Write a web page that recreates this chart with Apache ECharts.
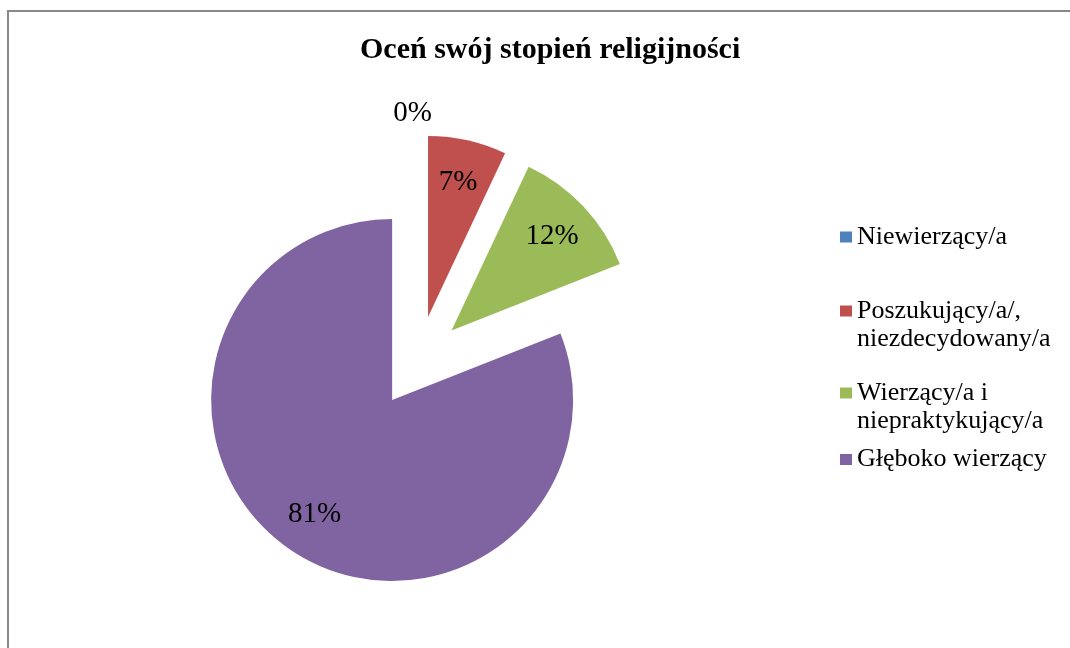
<!DOCTYPE html>
<html>
<head>
<meta charset="utf-8">
<script src="https://cdn.jsdelivr.net/npm/echarts@6/dist/echarts.min.js"></script>
<style>
html, body { margin: 0; padding: 0; background: #ffffff; }
#chart { width: 1070px; height: 648px; }
</style>
</head>
<body>
<div id="chart"></div>
<script>
// ---- data ----
const chartTitle = 'Oceń swój stopień religijności';
const categories = [
  'Niewierzący/a',
  'Poszukujący/a/, niezdecydowany/a',
  'Wierzący/a i niepraktykujący/a',
  'Głęboko wierzący'
];
const legendLines = [
  ['Niewierzący/a'],
  ['Poszukujący/a/,', 'niezdecydowany/a'],
  ['Wierzący/a i', 'niepraktykujący/a'],
  ['Głęboko wierzący']
];
const percentValues = [0, 7, 12, 81];
const colors = ['#4F81BD', '#C0504D', '#9BBB59', '#8064A2'];

// ---- layout / style ----
const FONT = '"Liberation Serif", "Times New Roman", serif';
const PIE_CENTER = [418, 362];
const PIE_R = 181;
const EXPLODE = 46;
const LEGEND_LH = 28.3;
const legendFirstLineY = [237, 311, 393, 459.5];

const pctFormatter = p => Math.round(p.percent) + '%';

const chart = echarts.init(document.getElementById('chart'), null, { renderer: 'canvas' });

const legends = categories.map((name, i) => {
  const lines = legendLines[i];
  const n = lines.length;
  const total = 2 * n - 1;
  return {
    data: [name],
    orient: 'vertical',
    left: 840,
    top: legendFirstLineY[i] - total * LEGEND_LH / 2,
    padding: 0,
    icon: 'rect',
    itemWidth: 12,
    itemHeight: 11,
    selectedMode: false,
    formatter: () => '\n'.repeat(n - 1) + lines.join('\n'),
    textStyle: { fontFamily: FONT, fontSize: 26, color: '#000', lineHeight: LEGEND_LH }
  };
});

const option = {
  animation: false,
  backgroundColor: '#ffffff',
  title: {
    text: chartTitle,
    left: 360,
    top: 35,
    padding: 0,
    textStyle: { fontFamily: FONT, fontWeight: 'bold', fontSize: 30, color: '#000' }
  },
  legend: legends,
  graphic: [{
    type: 'rect',
    silent: true,
    z: -10,
    shape: { x: 8, y: 11, width: 1200, height: 900 },
    style: { fill: 'none', stroke: '#888888', lineWidth: 2 }
  }],
  series: [
    {
      type: 'pie',
      name: 'main',
      center: PIE_CENTER,
      radius: PIE_R,
      startAngle: 90,
      clockwise: true,
      selectedMode: 'multiple',
      selectedOffset: EXPLODE,
      avoidLabelOverlap: false,
      itemStyle: { borderWidth: 0 },
      select: { itemStyle: { borderWidth: 0 } },
      emphasis: { disabled: true, scale: false },
      label: { show: false },
      labelLine: { show: false },
      labelLayout: function (p) {
        if (p.dataIndex === 0) return { dx: 19 };
      },
      data: categories.map((name, i) => ({
        name: name,
        value: percentValues[i],
        selected: true,
        itemStyle: { color: colors[i] },
        label: percentValues[i] === 0 ? {
          show: true, position: 'outside', formatter: pctFormatter,
          fontFamily: FONT, fontSize: 29, color: '#000'
        } : { show: false },
        labelLine: { show: false, length: 22, length2: 0 }
      }))
    },
    {
      type: 'pie',
      name: 'labels',
      center: PIE_CENTER,
      radius: 270,
      startAngle: 90,
      clockwise: true,
      silent: true,
      selectedMode: 'multiple',
      selectedOffset: EXPLODE,
      avoidLabelOverlap: false,
      itemStyle: { color: 'rgba(0,0,0,0)', borderWidth: 0 },
      select: { itemStyle: { color: 'rgba(0,0,0,0)', borderWidth: 0 } },
      emphasis: { disabled: true, scale: false },
      label: {
        show: true, position: 'inside', formatter: pctFormatter,
        fontFamily: FONT, fontSize: 29, color: '#000'
      },
      labelLine: { show: false },
      data: categories.map((name, i) => ({
        name: name,
        value: percentValues[i],
        selected: true,
        itemStyle: { color: 'rgba(0,0,0,0)' },
        label: { show: percentValues[i] !== 0 }
      }))
    }
  ]
};

chart.setOption(option);
</script>
</body>
</html>
